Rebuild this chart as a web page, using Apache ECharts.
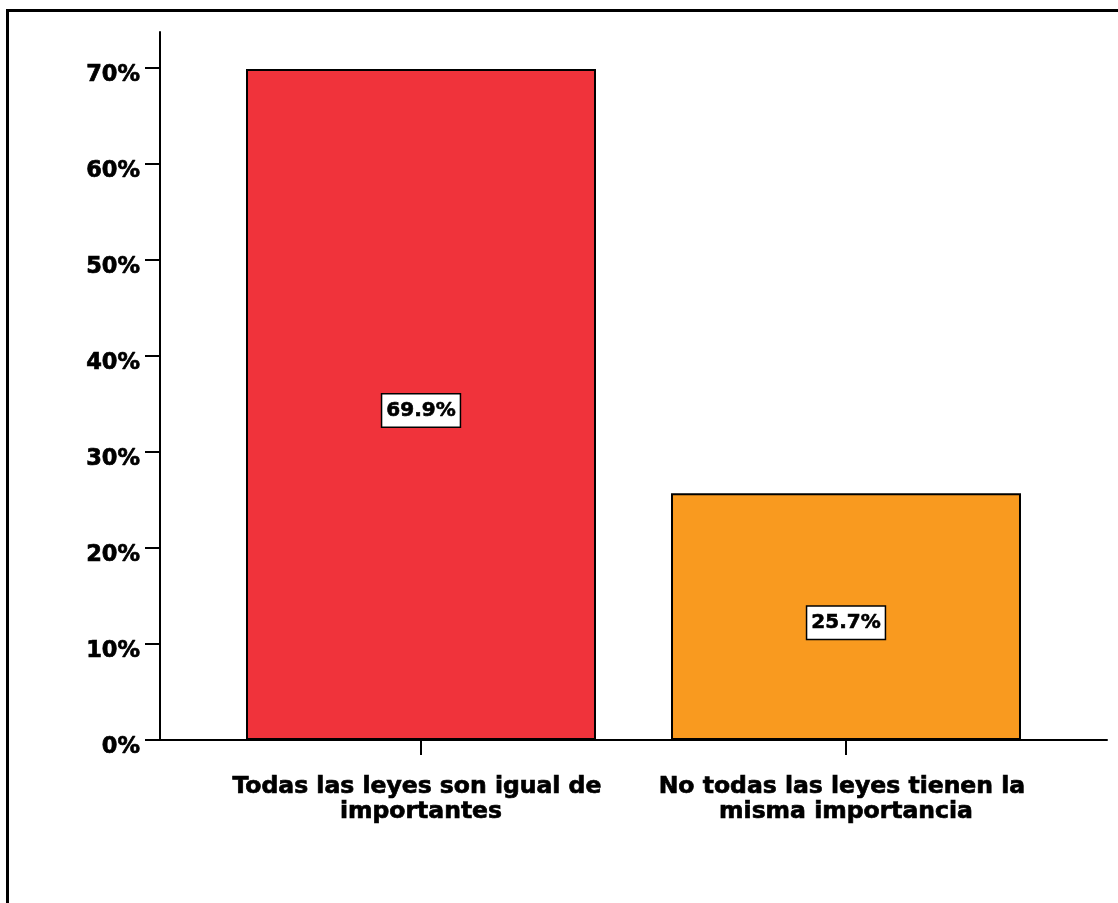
<!DOCTYPE html>
<html>
<head>
<meta charset="utf-8">
<script src="https://cdn.jsdelivr.net/npm/echarts@6/dist/echarts.min.js"></script>
<style>
html,body{margin:0;padding:0;background:#fff;}
#chart{position:absolute;left:0;top:0;width:1118px;height:903px;}
#frame{position:absolute;left:6px;top:9px;width:1200px;height:1000px;border-left:3px solid #000;border-top:3px solid #000;pointer-events:none;}
</style>
</head>
<body>
<div id="chart"></div>
<div id="frame"></div>
<script>
const categories = ['Todas las leyes son igual de importantes', 'No todas las leyes tienen la misma importancia'];
const values = [69.9, 25.7];
const barColors = ['#F0333B', '#F99A1F'];
const yTicks = [0, 10, 20, 30, 40, 50, 60, 70];

const FONT = 'DejaVu Sans';
const chart = echarts.init(document.getElementById('chart'), null, {renderer: 'canvas'});
chart.setOption({
  animation: false,
  backgroundColor: '#fff',
  grid: [
    {left: 208.5, right: 59.5, top: 68, bottom: 163},
    {left: 160, right: 11, top: 32, bottom: 163}
  ],
  xAxis: [
    {
      type: 'category', gridIndex: 0, data: categories,
      axisLine: {show: false},
      axisTick: {show: true, alignWithLabel: true, length: 15, lineStyle: {color: '#000', width: 2}},
      axisLabel: {
        color: '#000', fontFamily: FONT, fontWeight: 'bold', fontSize: 23.5,
        textBorderColor: '#000', textBorderWidth: 0.7,
        lineHeight: 25, margin: 34, width: 400, overflow: 'break', interval: 0
      }
    },
    {
      type: 'value', gridIndex: 1, min: 0, max: 1,
      axisLine: {show: true, lineStyle: {color: '#000', width: 2}},
      axisTick: {show: false}, axisLabel: {show: false}, splitLine: {show: false}
    }
  ],
  yAxis: [
    {
      type: 'value', gridIndex: 0, min: yTicks[0], max: yTicks[yTicks.length - 1], interval: 10,
      offset: 48.5,
      axisLine: {show: false},
      axisTick: {show: true, length: 15, lineStyle: {color: '#000', width: 2}},
      axisLabel: {
        color: '#000', fontFamily: FONT, fontWeight: 'bold', fontSize: 22.5, margin: 20,
        textBorderColor: '#000', textBorderWidth: 0.7,
        verticalAlign: 'top', lineHeight: 14,
        formatter: v => v + '%'
      },
      splitLine: {show: false}
    },
    {
      type: 'value', gridIndex: 1, min: 0, max: 1,
      axisLine: {show: true, lineStyle: {color: '#000', width: 2}},
      axisTick: {show: false}, axisLabel: {show: false}, splitLine: {show: false}
    }
  ],
  series: [
    {
      type: 'bar', xAxisIndex: 0, yAxisIndex: 0,
      barWidth: '82.35%',
      data: values.map((v, i) => ({value: v, itemStyle: {color: barColors[i]}})),
      itemStyle: {borderColor: '#000', borderWidth: 2},
      label: {
        show: true, position: 'inside', offset: [0, 6],
        formatter: p => p.value.toFixed(1) + '%',
        color: '#000', fontFamily: FONT, fontWeight: 'bold', fontSize: 20,
        textBorderColor: '#000', textBorderWidth: 0.6,
        backgroundColor: '#fff', borderColor: '#000', borderWidth: 1.5,
        padding: [7, 4, 5, 4]
      }
    }
  ]
});
</script>
</body>
</html>
